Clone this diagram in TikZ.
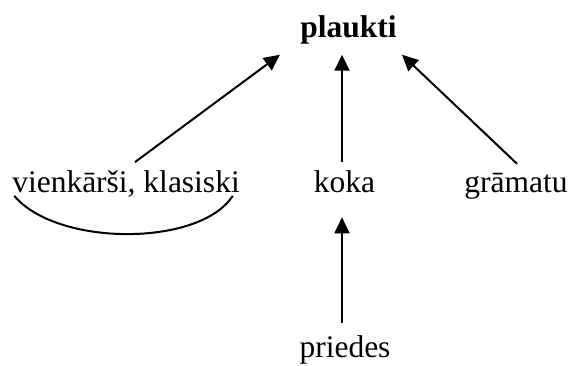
\documentclass[tikz,border=0pt]{standalone}
\usepackage{fontspec}
\setmainfont{Liberation Serif}
\usetikzlibrary{arrows.meta,calc}
\tikzset{
  word/.style={inner sep=0pt, outer sep=0pt, anchor=base, font=\fontsize{31.5}{37}\selectfont},
  arr/.style={line width=2pt, -{Triangle[length=16pt,width=15pt]}},
  curveline/.style={line width=2pt}
}
\begin{document}
\begin{tikzpicture}[x=1pt,y=-1pt]
\useasboundingbox (0,0) rectangle (573,365);
\node[word, font=\fontsize{31.5}{37}\selectfont\bfseries] (pl) at (348.5,37) {plaukti};
\node[word] (vk) at (126,192) {vienkārši, klasiski};
\node[word] (ko) at (344.5,192) {koka};
\node[word] (gr) at (516,192) {grāmatu};
\node[word] (pr) at (345,357) {priedes};
\draw[arr] ([xshift=9pt,yshift=8pt]vk.north) -- ([xshift=-68.5pt,yshift=-11pt]pl.south);
\draw[arr] ([xshift=-2.5pt,yshift=8pt]ko.north) -- ([xshift=-6.5pt,yshift=-11pt]pl.south);
\draw[arr] ([xshift=1pt,yshift=9pt]gr.north) -- ([xshift=53.5pt,yshift=-11pt]pl.south);
\draw[arr] ([xshift=-3pt,yshift=12pt]pr.north) -- ([xshift=-2.5pt,yshift=-25pt]ko.south);
\draw[curveline] ([xshift=2pt,yshift=1pt]vk.south west) .. controls ($(vk.south west)+(45,50)$) and ($(vk.south east)+(-40,50)$) .. ([xshift=-7pt,yshift=1pt]vk.south east);
\end{tikzpicture}
\end{document}
